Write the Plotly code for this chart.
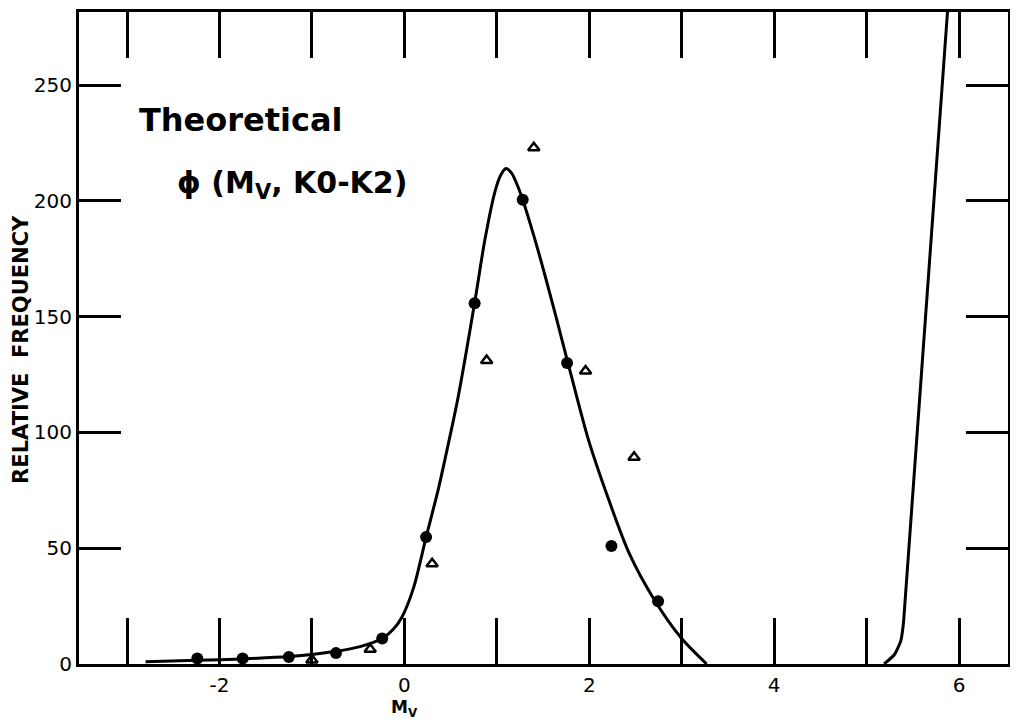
import plotly.graph_objects as go

# ---- data ----
curve_x = [-2.80, -2.24, -1.75, -1.25, -0.74, -0.48, -0.24, -0.12, -0.03, 0.10, 0.235, 0.37, 0.475,
           0.585, 0.76, 0.87, 0.98, 1.04, 1.10, 1.16, 1.22, 1.28, 1.40, 1.52, 1.64, 1.77, 1.99,
           2.21, 2.43, 2.70, 3.00, 3.27]
curve_y = [1.0, 1.6, 2.2, 3.2, 5.5, 7.5, 11, 15, 20, 33, 54.8, 76, 95,
           116, 156, 183, 204, 211, 214, 212, 207, 200.5, 185, 168, 150, 130, 97,
           71, 48, 28, 11, 0]

right_x = [5.19, 5.30, 5.37, 5.40, 5.885]
right_y = [0, 4, 10, 18, 287]

dots_x = [-2.24, -1.75, -1.25, -0.74, -0.24, 0.235, 0.76, 1.28, 1.76, 2.24, 2.745]
dots_y = [2.4, 2.4, 3.0, 4.7, 11.0, 54.8, 155.8, 200.5, 130, 51.0, 27.1]

tri_x = [-1.0, -0.37, 0.30, 0.89, 1.40, 1.96, 2.485]
tri_y = [1.7, 6.4, 43.3, 131.1, 223, 126.5, 89.3]

x_tickvals = [-3, -2, -1, 0, 1, 2, 3, 4, 5, 6]
x_ticktext = ["", "-2", "", "0", "", "2", "", "4", "", "6"]
y_tickvals = [0, 50, 100, 150, 200, 250]
y_ticktext = ["0", "50", "100", "150", "200", "250"]

FONT = "DejaVu Sans"

fig = go.Figure()
fig.add_trace(go.Scatter(x=curve_x, y=curve_y, mode="lines",
                         line=dict(color="black", width=3, shape="spline", smoothing=0.8),
                         showlegend=False, hoverinfo="skip"))
fig.add_trace(go.Scatter(x=right_x, y=right_y, mode="lines",
                         line=dict(color="black", width=3, shape="spline", smoothing=0.5),
                         showlegend=False, hoverinfo="skip"))
fig.add_trace(go.Scatter(x=dots_x, y=dots_y, mode="markers",
                         marker=dict(symbol="circle", size=12, color="black"),
                         showlegend=False))
fig.add_trace(go.Scatter(x=tri_x, y=tri_y, mode="markers",
                         marker=dict(symbol="triangle-up-open", size=10, color="black",
                                     line=dict(width=2.5, color="black")),
                         showlegend=False))

fig.add_annotation(x=0.0624, y=0.8336, xref="paper", yref="paper", xanchor="left", yanchor="middle",
                   text="<b>Theoretical</b>", showarrow=False,
                   font=dict(family=FONT, size=32, color="black"))
fig.add_annotation(x=0.103, y=0.735, xref="paper", yref="paper", xanchor="left", yanchor="middle",
                   text="<b>ϕ (M<sub>V</sub>, K0-K2)</b>", showarrow=False,
                   font=dict(family=FONT, size=30, color="black"))
fig.add_annotation(x=0.0, y=-0.068, xref="x", yref="paper", xanchor="center", yanchor="middle",
                   text="<b>M<sub>V</sub></b>", showarrow=False,
                   font=dict(family=FONT, size=17, color="black"))
fig.add_annotation(x=-0.062, y=0.4824, xref="paper", yref="paper", xanchor="center", yanchor="middle",
                   text="<b>RELATIVE  FREQUENCY</b>", showarrow=False, textangle=-90,
                   font=dict(family=FONT, size=21, color="black"))

fig.update_layout(
    width=1010, height=712,
    margin=dict(l=71, r=10, t=1, b=56),
    plot_bgcolor="white", paper_bgcolor="white",
    font=dict(family=FONT, color="black"),
    xaxis=dict(range=[-3.52, 6.53], tickmode="array", tickvals=x_tickvals, ticktext=x_ticktext,
               ticks="inside", ticklen=46, tickwidth=3, tickcolor="black",
               showline=True, linewidth=3, linecolor="black", mirror="allticks",
               showgrid=False, zeroline=False,
               tickfont=dict(family=FONT, size=20, color="black")),
    yaxis=dict(range=[0, 281.6], tickmode="array", tickvals=y_tickvals, ticktext=y_ticktext,
               ticks="inside", ticklen=42, tickwidth=3, tickcolor="black",
               showline=True, linewidth=3, linecolor="black", mirror="allticks",
               showgrid=False, zeroline=False,
               tickfont=dict(family=FONT, size=20, color="black")),
)
fig.update_xaxes(ticklabelstandoff=1)

fig.write_html("out.html")
